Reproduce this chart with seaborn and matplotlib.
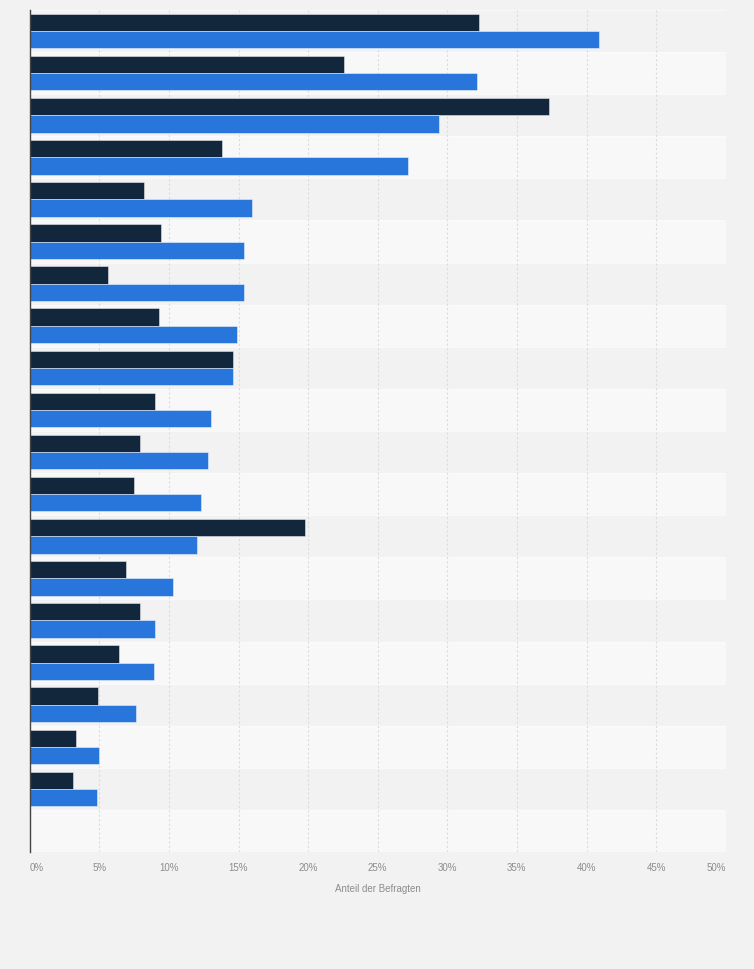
import numpy as np
import pandas as pd
import matplotlib
matplotlib.use("Agg")
import matplotlib.pyplot as plt
import seaborn as sns

# values (share of respondents, %)
categories = [f"Kategorie {i}" for i in range(1, 20)]
series_names = ["Gruppe A", "Gruppe B"]
values_dark = [32.3, 22.6, 37.3, 13.8, 8.2, 9.4, 5.6, 9.3, 14.6, 9.0,
               7.9, 7.5, 19.8, 6.9, 7.9, 6.4, 4.9, 3.3, 3.1]
values_blue = [40.9, 32.1, 29.4, 27.2, 16.0, 15.4, 15.4, 14.9, 14.6, 13.0,
               12.8, 12.3, 12.0, 10.3, 9.0, 8.9, 7.6, 5.0, 4.8]
x_ticks = [0, 5, 10, 15, 20, 25, 30, 35, 40, 45, 50]
x_label = "Anteil der Befragten"

colors = ["#12263c", "#2876dc"]
n_rows = 20  # last row stays empty in the original

df = pd.DataFrame({
    "kategorie": categories * 2,
    "gruppe": [series_names[0]] * len(categories) + [series_names[1]] * len(categories),
    "wert": values_dark + values_blue,
})

sns.set_style("white")
plt.rcParams["font.family"] = ["Liberation Sans", "DejaVu Sans"]

fig = plt.figure(figsize=(7.54, 9.69), dpi=100, facecolor="#f2f2f2")
ax = fig.add_axes([0.0394, 0.1207, 0.9231, 0.869])
ax.set_facecolor("#f8f8f8")

# alternating row bands
for i in range(n_rows):
    ax.axhspan(i - 0.5, i + 0.5, color="#f2f2f2" if i % 2 == 0 else "#f8f8f8",
               zorder=0, lw=0)

sns.barplot(data=df, y="kategorie", x="wert", hue="gruppe", order=categories,
            hue_order=series_names, palette=colors, saturation=1, orient="h",
            width=0.82, legend=False, ax=ax, zorder=3)

for p in ax.patches:
    p.set_edgecolor((1, 1, 1, 0.45))
    p.set_linewidth(0.7)

ax.set_xlim(0, 50)
ax.set_ylim(n_rows - 0.5, -0.5)
ax.set_xticks(x_ticks)
ax.set_xticklabels([f"{t}%" for t in x_ticks], fontsize=7, color="#8c8c8c")
labels = ax.get_xticklabels()
labels[0].set_horizontalalignment("left")
labels[-1].set_horizontalalignment("right")
ax.tick_params(axis="x", length=0, pad=8)
ax.set_yticks([])
ax.set_ylabel("")
ax.set_xlabel(x_label, fontsize=7, color="#8c8c8c", labelpad=8)

for t in x_ticks[1:]:
    ax.axvline(t, color="#dcdcdc", lw=0.8, ls=(0, (2, 2)), zorder=1)

for side in ["top", "right", "bottom"]:
    ax.spines[side].set_visible(False)
ax.spines["left"].set_color("#444444")
ax.spines["left"].set_linewidth(1.0)
ax.spines["left"].set_zorder(5)

fig.savefig("out.png", dpi=100, facecolor=fig.get_facecolor())
